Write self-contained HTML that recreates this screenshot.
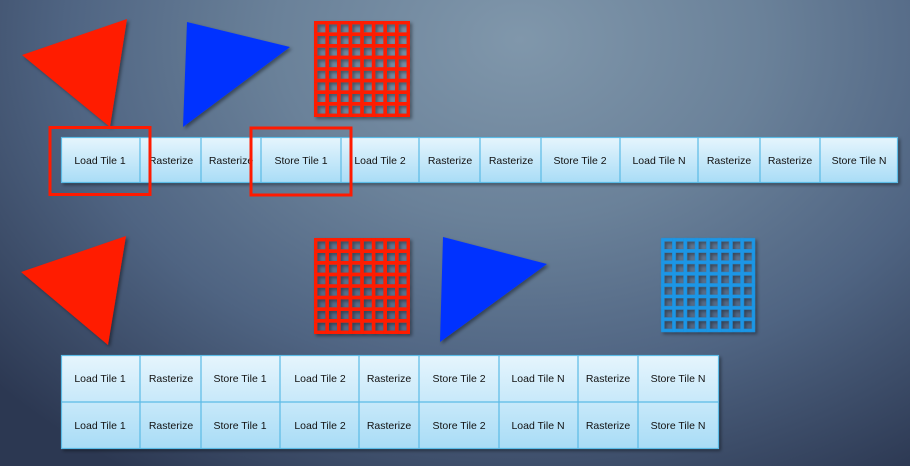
<!DOCTYPE html>
<html><head><meta charset="utf-8"><style>
html,body{margin:0;padding:0;width:910px;height:466px;overflow:hidden}
body{background:radial-gradient(ellipse 700px 520px at 520px 40px,#8097ab 0%,#6a8199 35%,#4f6482 65%,#2c3852 100%)}
.c{font-family:"Liberation Sans",sans-serif;font-size:10.5px;fill:#111}
</style></head><body>
<svg width="910" height="466" viewBox="0 0 910 466" xmlns="http://www.w3.org/2000/svg">
<defs>
<linearGradient id="cg" x1="0" y1="0" x2="0" y2="1"><stop offset="0" stop-color="#e6f5fd"/><stop offset="1" stop-color="#a8dcf6"/></linearGradient>
<filter id="sh"><feDropShadow dx="2" dy="2" stdDeviation="1.5" flood-opacity="0.4"/></filter>
<g id="grid">
<rect x="1.7" y="1.7" width="92.6" height="92.6" fill="none" stroke-width="3.4"/>
<path d="M13.2 0V96M24.8 0V96M36.4 0V96M48 0V96M59.6 0V96M71.2 0V96M82.8 0V96M0 13.2H96M0 24.8H96M0 36.4H96M0 48H96M0 59.6H96M0 71.2H96M0 82.8H96" stroke-width="3.6"/>
</g>
</defs>
<g filter="url(#sh)">
<polygon points="22,55 127,19 110,127" fill="#ff1a00"/>
<polygon points="187,22 290,47 183,127" fill="#0033ff"/>
<polygon points="21,272 126,236 108,345" fill="#ff1a00"/>
<polygon points="443,237 547,264 440,342" fill="#0033ff"/>
<use href="#grid" transform="translate(314,21)" stroke="#ff1a00"/>
<use href="#grid" transform="translate(314,238)" stroke="#ff1a00"/>
<use href="#grid" transform="translate(661,238) scale(0.98)" stroke="#1a96e6"/>
</g>
<g filter="url(#sh)"><rect x="61" y="137" width="837" height="46" fill="url(#cg)"/></g>
<g filter="url(#sh)"><rect x="61" y="355" width="658" height="94" fill="url(#cg)"/></g>
<g stroke="#5bbbe6" stroke-width="1.2" fill="none">
<rect x="61.5" y="137.5" width="836" height="45"/>
<path d="M140 137V183M201 137V183M261 137V183M341 137V183M419 137V183M480 137V183M541 137V183M620 137V183M698 137V183M760 137V183M820 137V183"/>
<rect x="61.5" y="355.5" width="657" height="93"/>
<path d="M61 402H719M140 355V449M201 355V449M280 355V449M359 355V449M419 355V449M499 355V449M578 355V449M638 355V449"/>
</g>
<g class="c" text-anchor="middle">
<text x="100" y="164">Load Tile 1</text><text x="171" y="164">Rasterize</text><text x="231" y="164">Rasterize</text><text x="301" y="164">Store Tile 1</text><text x="380" y="164">Load Tile 2</text><text x="450" y="164">Rasterize</text><text x="511" y="164">Rasterize</text><text x="580" y="164">Store Tile 2</text><text x="659" y="164">Load Tile N</text><text x="729" y="164">Rasterize</text><text x="790" y="164">Rasterize</text><text x="859" y="164">Store Tile N</text>
<text x="100" y="382">Load Tile 1</text><text x="171" y="382">Rasterize</text><text x="240" y="382">Store Tile 1</text><text x="320" y="382">Load Tile 2</text><text x="389" y="382">Rasterize</text><text x="459" y="382">Store Tile 2</text><text x="538" y="382">Load Tile N</text><text x="608" y="382">Rasterize</text><text x="678" y="382">Store Tile N</text>
<text x="100" y="429">Load Tile 1</text><text x="171" y="429">Rasterize</text><text x="240" y="429">Store Tile 1</text><text x="320" y="429">Load Tile 2</text><text x="389" y="429">Rasterize</text><text x="459" y="429">Store Tile 2</text><text x="538" y="429">Load Tile N</text><text x="608" y="429">Rasterize</text><text x="678" y="429">Store Tile N</text>
</g>
<g fill="none" stroke="#ff1a00" stroke-width="3">
<rect x="50" y="127.5" width="100" height="67"/>
<rect x="251" y="128" width="100" height="67"/>
</g>
</svg>
</body></html>
